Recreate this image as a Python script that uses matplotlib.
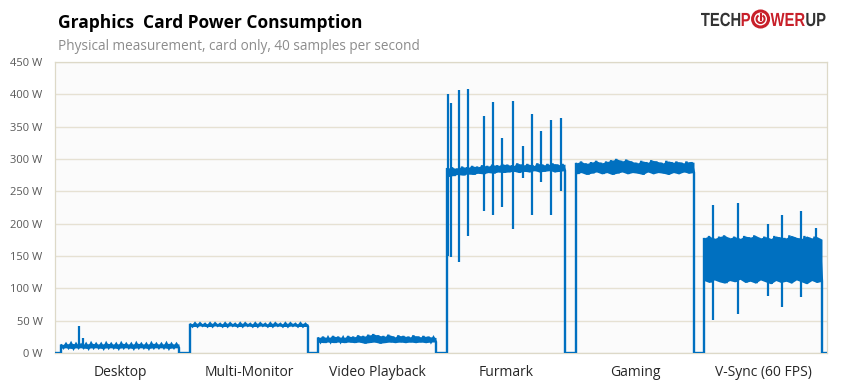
import numpy as np
import matplotlib
matplotlib.use('Agg')
import matplotlib.pyplot as plt
from matplotlib.patches import Circle, Arc, PathPatch
from matplotlib.textpath import TextPath
from matplotlib.font_manager import FontProperties
from matplotlib.transforms import Affine2D

# test runs: start sample, length (same time base for all)
tests = ["Desktop", "Multi-Monitor", "Video Playback", "Furmark", "Gaming", "V-Sync (60 FPS)"]
seg_start = [6, 135, 263, 392, 521, 649]
seg_len = 118
total_len = 772

# upper / lower envelope of the noisy power trace, watts, 24 reads per test
desktop_hi = [13, 14, 15, 14, 13, 14, 15, 14, 14, 15, 14, 14, 15, 14, 14, 15, 14, 14, 15, 14, 14, 15, 14, 14]
desktop_lo = [8, 8, 7, 8, 8, 7, 8, 8, 7, 8, 8, 7, 8, 8, 7, 8, 8, 7, 8, 8, 8, 7, 8, 8]
multimon_hi = [45, 46, 46, 45, 46, 46, 45, 46, 46, 45, 46, 46, 45, 46, 46, 45, 46, 46, 45, 46, 46, 45, 46, 45]
multimon_lo = [41, 41, 42, 41, 41, 42, 41, 41, 42, 41, 41, 42, 41, 41, 42, 41, 41, 42, 41, 41, 42, 41, 41, 41]
video_hi = [24, 25, 24, 26, 25, 24, 26, 25, 27, 26, 28, 29, 27, 26, 28, 25, 27, 26, 25, 27, 25, 26, 25, 24]
video_lo = [17, 16, 17, 16, 17, 16, 17, 16, 17, 15, 16, 17, 15, 16, 17, 16, 17, 16, 17, 16, 17, 16, 17, 17]
furmark_hi = [286, 287, 285, 288, 287, 289, 288, 290, 289, 291, 290, 292, 291, 290, 293, 291, 292, 290, 293, 291, 292, 293, 291, 292]
furmark_lo = [273, 274, 276, 275, 277, 276, 278, 277, 279, 278, 280, 279, 280, 281, 279, 281, 280, 282, 280, 281, 282, 280, 281, 282]
gaming_hi = [294, 296, 293, 295, 297, 294, 296, 298, 300, 297, 299, 296, 294, 297, 295, 298, 296, 294, 297, 295, 296, 294, 296, 295]
gaming_lo = [277, 279, 276, 278, 280, 277, 279, 276, 278, 280, 277, 279, 278, 276, 280, 277, 279, 278, 276, 279, 277, 280, 278, 279]
vsync_hi = [178, 181, 177, 180, 182, 178, 180, 177, 181, 179, 182, 178, 180, 177, 181, 179, 178, 182, 179, 177, 181, 178, 180, 176]
vsync_lo = [112, 109, 113, 110, 108, 112, 110, 114, 109, 111, 108, 113, 110, 107, 112, 109, 111, 108, 113, 110, 107, 112, 109, 111]

band_hi = [desktop_hi, multimon_hi, video_hi, furmark_hi, gaming_hi, vsync_hi]
band_lo = [desktop_lo, multimon_lo, video_lo, furmark_lo, gaming_lo, vsync_lo]

# single-sample spikes: (position within test 0..1, top W, bottom W)
spikes = [
    [(0.15, 42, 10), (0.19, 23, 10)],
    [],
    [],
    [(0.01, 400, 150), (0.03, 386, 149), (0.10, 406, 140), (0.18, 409, 181), (0.31, 366, 220),
     (0.39, 388, 214), (0.47, 333, 226), (0.56, 390, 192), (0.64, 320, 271), (0.72, 370, 214),
     (0.80, 343, 265), (0.88, 360, 214), (0.97, 363, 251)],
    [],
    [(0.08, 229, 51), (0.29, 232, 60), (0.54, 200, 88), (0.66, 214, 71), (0.82, 220, 87), (0.95, 194, 110)],
]

yticks = [0, 50, 100, 150, 200, 250, 300, 350, 400, 450]

blue = "#0070C0"
W, H = 841, 387
fig = plt.figure(figsize=(W / 100, H / 100), dpi=100)
fig.patch.set_facecolor("white")
ax = fig.add_axes([55 / W, 1 - 353 / H, 772 / W, 291 / H])
ax.set_facecolor("#FBFBFB")

# build the trace: zero between tests, zig-zag between envelopes inside a test
tx, ty = [0], [0]
for s, hi, lo in zip(seg_start, band_hi, band_lo):
    xs = np.linspace(s, s + seg_len, 2 * len(hi))
    zz = np.empty(2 * len(hi))
    zz[0::2] = hi
    zz[1::2] = lo
    tx += [s] + list(xs) + [s + seg_len]
    ty += [0] + list(zz) + [0]
    xb = np.linspace(s, s + seg_len, len(hi))
    ax.fill_between(xb, lo, hi, color=blue, lw=0, zorder=3)
tx.append(total_len)
ty.append(0)
ax.plot(tx, ty, color=blue, lw=1.7, zorder=4, solid_joinstyle="miter")

for s, sp in zip(seg_start, spikes):
    for pos, top, bot in sp:
        ax.vlines(s + pos * seg_len, bot, top, color=blue, lw=1.6, zorder=4)

ax.set_xlim(0, total_len)
ax.set_ylim(0, 450)
ax.set_yticks(yticks)
ax.set_yticklabels([f"{v} W" for v in yticks])
ax.set_xticks([s + seg_len / 2 for s in seg_start])
ax.set_xticklabels(tests)
ax.tick_params(axis="y", length=0, pad=9, labelsize=8, labelcolor="#595959")
ax.tick_params(axis="x", length=0, pad=9, labelsize=10, labelcolor="#262626")
for lab in ax.get_xticklabels() + ax.get_yticklabels():
    lab.set_family(["Open Sans", "DejaVu Sans"])
ax.grid(axis="y", color="#E6E1D3", lw=1, zorder=0)
for sp_ in ax.spines.values():
    sp_.set_color("#DDD9C8")
    sp_.set_linewidth(0.9)

fig.text(58 / W, 1 - 28 / H, "Graphics  Card Power Consumption", fontsize=12.5, fontweight="bold",
         family=["Open Sans", "DejaVu Sans"], color="black", va="baseline")
fig.text(58 / W, 1 - 50 / H, "Physical measurement, card only, 40 samples per second", fontsize=9.8,
         family=["Open Sans", "DejaVu Sans"], color="#8C8C8C", va="baseline")

# logo, drawn as condensed text paths in pixel units
dark, red = "#333333", "#C8202A"
prop = FontProperties(family="Liberation Sans", weight="bold")
pix = Affine2D().scale(1 / W, 1 / H) + fig.transFigure
x = 701
base_y = H - 26
for txt, col in [("TECH", dark), ("P", red), (None, red), ("WER", red), ("UP", dark)]:
    if txt is None:
        cx, cy = x + 9, H - 19
        fig.patches.append(Circle((cx, cy), 8, transform=pix, fill=False, ec=red, lw=2.2))
        fig.patches.append(Arc((cx, cy), 8, 8, theta1=120, theta2=60, transform=pix, ec=red, lw=1.5))
        fig.add_artist(plt.Line2D([cx, cx], [cy - 1, cy + 5], transform=pix, color=red, lw=1.5))
        x += 19
        continue
    tp = TextPath((0, 0), txt, size=19, prop=prop)
    ext = tp.get_extents()
    tr = Affine2D().translate(-ext.x0, 0).scale(0.78, 1).translate(x, base_y) + pix
    fig.patches.append(PathPatch(tp, transform=tr, fc=col, ec="none"))
    x += ext.width * 0.78 + 1.5

fig.savefig("out.png", dpi=100)
